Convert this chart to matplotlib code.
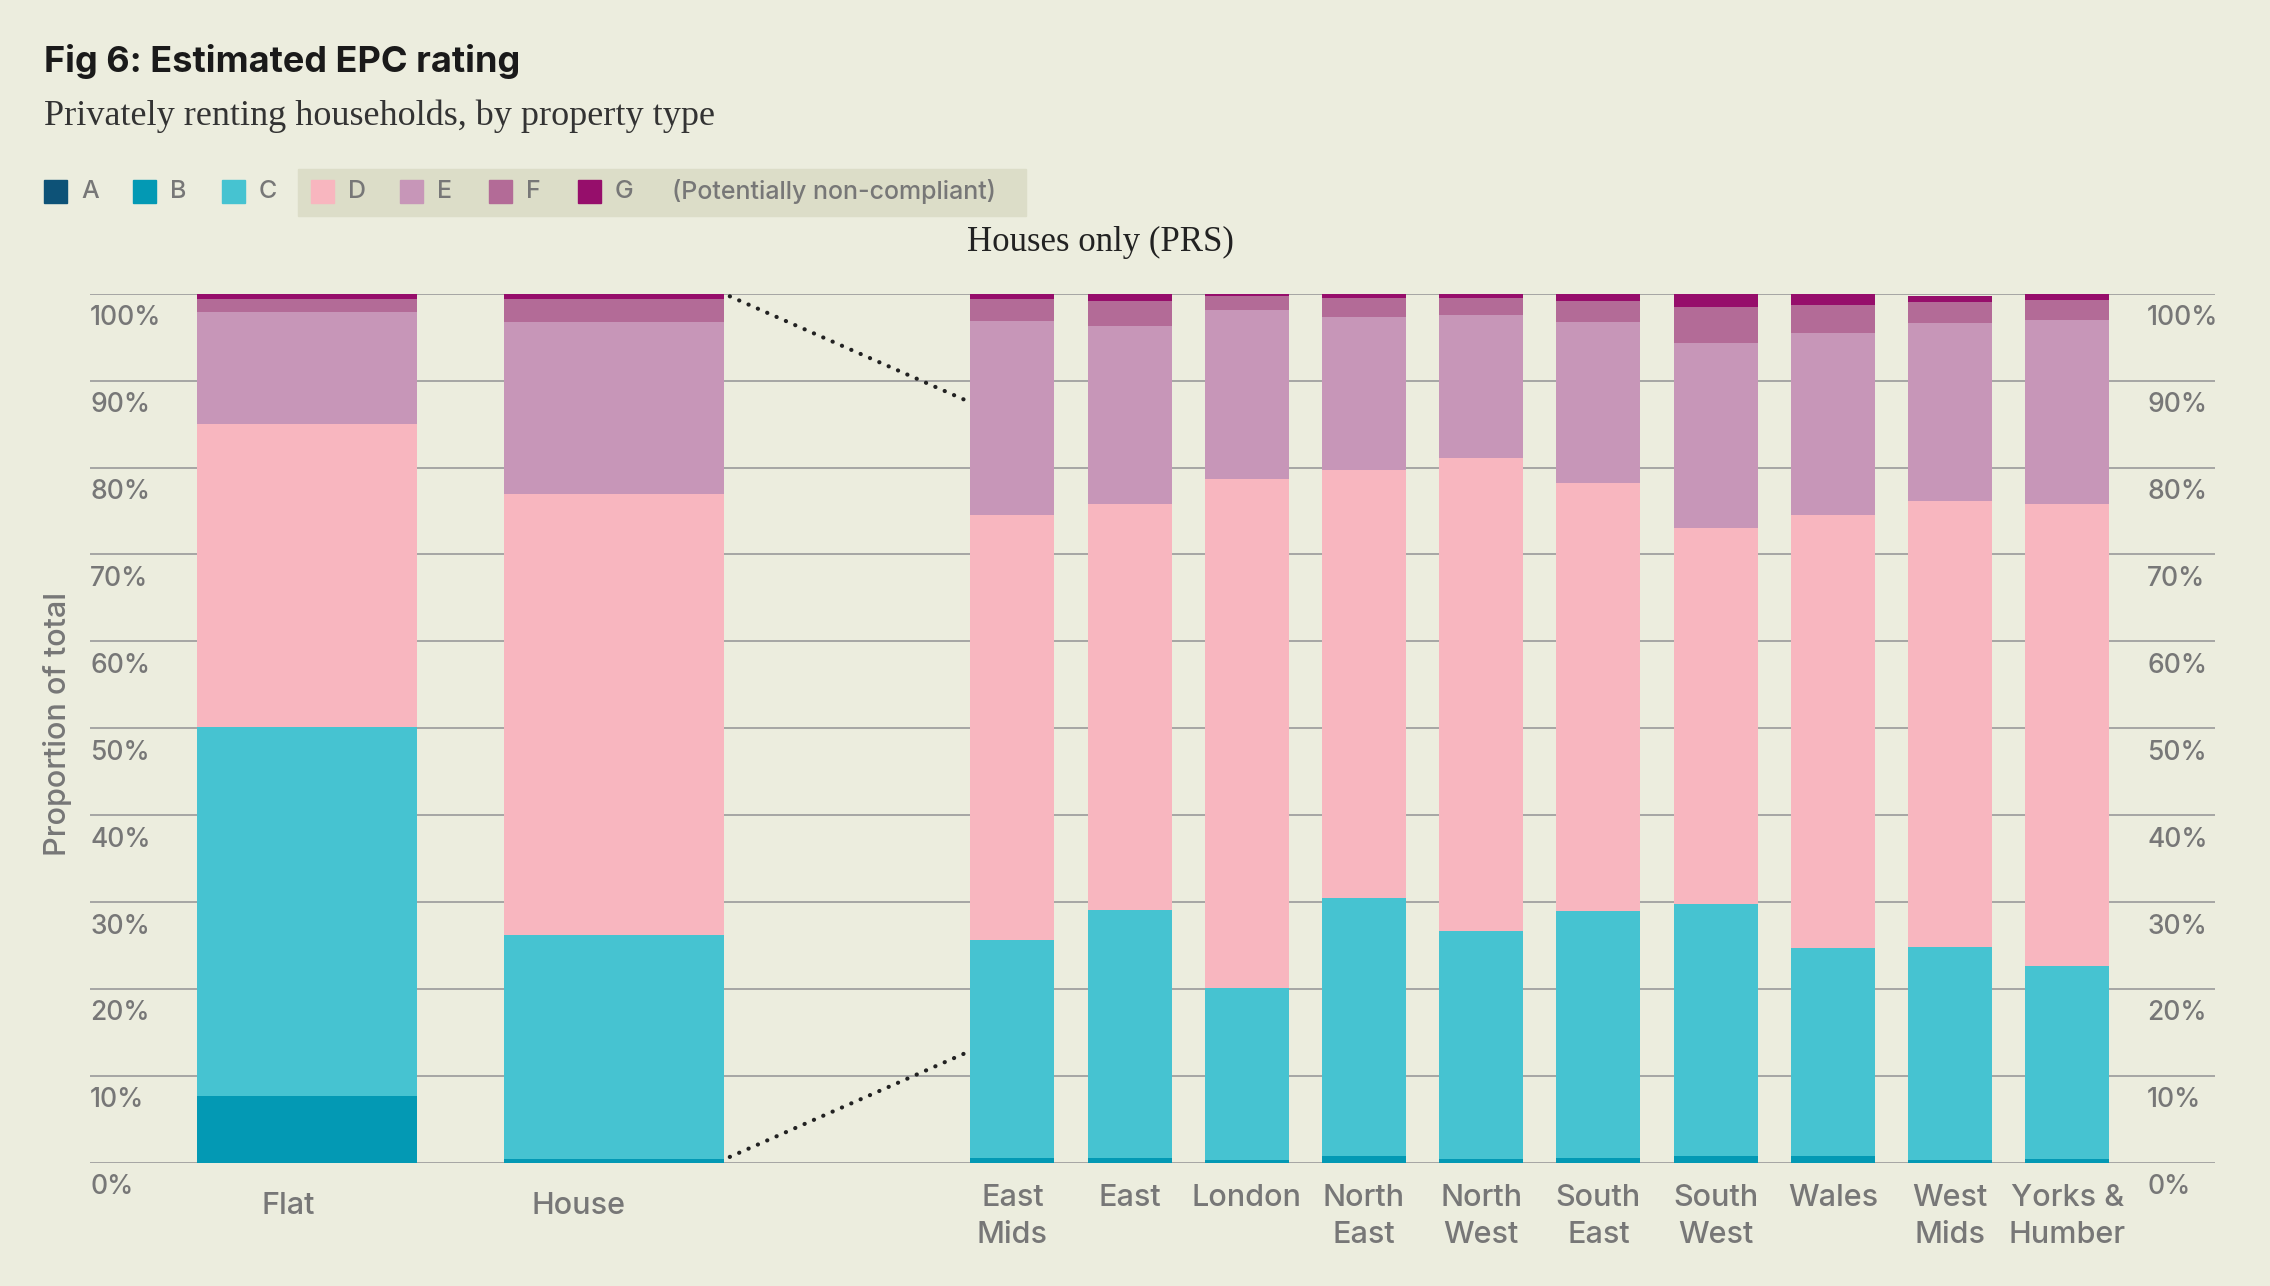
import numpy as np
import matplotlib.pyplot as plt
from matplotlib.patches import Rectangle

# Data (percent of households in each EPC band)
bands = ['A', 'B', 'C', 'D', 'E', 'F', 'G']
colors = ['#0d5277', '#0399b4', '#46c3d1', '#f8b6bf', '#c796b8', '#b36b97', '#960e6b']

prop_types = ['Flat', 'House']
prop_vals = {
    'A': [0.0, 0.0],
    'B': [7.7, 0.5],
    'C': [42.5, 25.7],
    'D': [34.8, 50.75],
    'E': [12.9, 19.8],
    'F': [1.5, 2.65],
    'G': [0.6, 0.6],
}

regions = ['East\nMids', 'East', 'London', 'North\nEast', 'North\nWest',
           'South\nEast', 'South\nWest', 'Wales', 'West\nMids', 'Yorks &\nHumber']
reg_vals = {
    'A': [0, 0, 0, 0, 0, 0, 0, 0, 0, 0],
    'B': [0.6, 0.6, 0.4, 0.8, 0.45, 0.6, 0.8, 0.8, 0.4, 0.45],
    'C': [25.1, 28.45, 19.7, 29.7, 26.25, 28.4, 29.05, 23.9, 24.4, 22.25],
    'D': [48.85, 46.75, 58.55, 49.2, 54.4, 49.2, 43.15, 49.8, 51.4, 53.1],
    'E': [22.35, 20.5, 19.45, 17.6, 16.4, 18.5, 21.3, 21.0, 20.4, 21.2],
    'F': [2.5, 2.9, 1.6, 2.15, 1.95, 2.5, 4.2, 3.2, 2.5, 2.3],
    'G': [0.6, 0.8, 0.3, 0.55, 0.55, 0.8, 1.5, 1.3, 0.6, 0.7],
}
yticks = np.arange(0, 101, 10)

W, H = 2270, 1286
bg = '#ecedde'
grey = '#777777'
sans = ['Inter', 'DejaVu Sans']
serif = ['Liberation Serif', 'DejaVu Serif']

fig = plt.figure(figsize=(W / 100, H / 100), dpi=100, facecolor=bg)


def fx(px):
    return px / W


def fy(py):
    return 1 - py / H


# axes spans gridline extent
ax = fig.add_axes([fx(90), fy(1163), fx(2215) - fx(90), fy(293.7) - fy(1163)])
ax.set_facecolor(bg)
ax.set_xlim(-7.87, 10.26)
ax.set_ylim(0, 100)
ax.axis('off')

for v in yticks:
    ax.axhline(v, color='#9a9a9a', lw=1.2, zorder=0)
    ax.text(0, v - 2.8, f'{v}%', transform=ax.get_yaxis_transform(),
            ha='left', va='center', fontsize=19, color=grey, family=sans,
            fontweight='medium')
    ax.text(9.68, v - 2.8, f'{v}%', ha='left', va='center',
            fontsize=19, color=grey, family=sans, fontweight='medium')

# property type bars
px_pos = np.array([-6.02, -3.40])
pw = 1.877
bottom = np.zeros(len(prop_types))
for b, c in zip(bands, colors):
    vals = np.array(prop_vals[b])
    ax.bar(px_pos, vals, pw, bottom=bottom, color=c, zorder=2, linewidth=0)
    bottom += vals

# regional bars (houses only)
rx = np.arange(len(regions))
rw = 0.717
bottom = np.zeros(len(regions))
for b, c in zip(bands, colors):
    vals = np.array(reg_vals[b])
    ax.bar(rx, vals, rw, bottom=bottom, color=c, zorder=2, linewidth=0)
    bottom += vals

# dotted connectors
x0 = px_pos[1] + pw / 2 + 0.05
x1 = rx[0] - rw / 2
ax.plot([x0, x1], [99.7, 87.5], color='#222222', lw=3, ls=(0, (0.05, 2.4)),
        dash_capstyle='round', zorder=3, clip_on=False)
ax.plot([x0, x1], [0.7, 12.9], color='#222222', lw=3, ls=(0, (0.05, 2.4)),
        dash_capstyle='round', zorder=3, clip_on=False)

# category labels
for x, lab in zip([-6.18, -3.70], prop_types):
    ax.text(x, -5.0, lab, ha='center', va='center', fontsize=22,
            color=grey, family=sans, fontweight='medium')
for x, lab in zip(rx, regions):
    ax.text(x, -2.4, lab, ha='center', va='top', fontsize=22, color=grey,
            family=sans, linespacing=1.4, fontweight='medium')

fig.text(fx(58), fy(724), 'Proportion of total', rotation=90, ha='center',
         va='center', fontsize=22, color=grey, family=sans,
         fontweight='medium')

# titles
fig.text(fx(44), fy(72), 'Fig 6: Estimated EPC rating', ha='left',
         va='baseline', fontsize=26, fontweight='bold', color='#1a1a1a',
         family=sans)
fig.text(fx(44), fy(125), 'Privately renting households, by property type',
         ha='left', va='baseline', fontsize=26, color='#333333', family=serif)
fig.text(fx(1100), fy(242), 'Houses only (PRS)', ha='center', va='center',
         fontsize=25, color='#222222', family=serif)

# legend
fig.patches.append(Rectangle((fx(298), fy(216)), fx(1026) - fx(298),
                             fy(169) - fy(216), transform=fig.transFigure,
                             color='#dcddc8', zorder=0))
for i, (b, c) in enumerate(zip(bands, colors)):
    lx = 44 + i * 89
    fig.patches.append(Rectangle((fx(lx), fy(203)), fx(23), fy(180) - fy(203),
                                 transform=fig.transFigure, color=c))
    fig.text(fx(lx + 37), fy(192), b, ha='left', va='center', fontsize=18,
             color=grey, family=sans, fontweight='medium')
fig.text(fx(672), fy(192), '(Potentially non-compliant)', ha='left',
         va='center', fontsize=18, color=grey, family=sans,
         fontweight='medium')

fig.savefig('out.png', dpi=100, facecolor=bg)
